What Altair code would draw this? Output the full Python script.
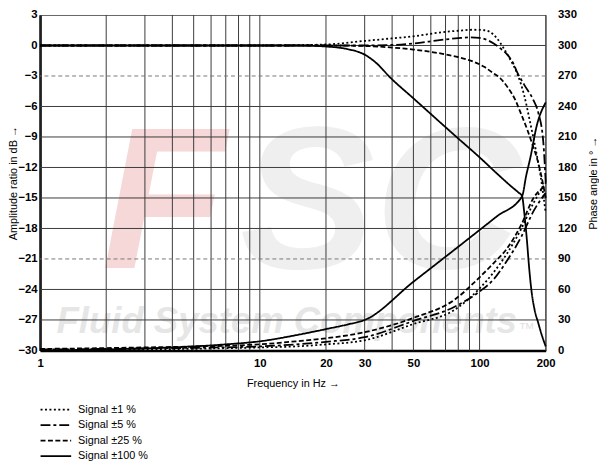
import altair as alt
import pandas as pd

SERIES = ["Signal ±1 %", "Signal ±5 %", "Signal ±25 %", "Signal ±100 %"]
DASHES = [[2, 2.5], [10, 3, 3, 3], [5, 2.5], [1, 0]]

# ---- amplitude ratio (dB) ----
amp1_f = [1, 10, 20, 30, 40, 50, 67, 80, 94, 105, 112, 120, 129, 138, 148, 160, 170, 180, 190, 200]
amp1_db = [0, 0, 0.1, 0.45, 0.7, 0.9, 1.3, 1.45, 1.55, 1.5, 1.3, 0.7, -0.3, -1.4, -2.7, -5.0, -7.6, -10.2, -13.0, -16.5]

amp2_f = [1, 30, 40, 50, 67, 80, 91, 100, 108, 116, 124, 135, 143, 148, 160, 176, 185, 195, 200]
amp2_db = [0, 0, 0.05, 0.2, 0.55, 0.72, 0.8, 0.75, 0.55, 0.2, -0.26, -1.0, -1.85, -2.6, -3.9, -5.4, -6.6, -9.5, -13.5]

amp3_f = [1, 20, 30, 40, 50, 67, 80, 94, 105, 115, 124, 135, 145, 153, 165, 175, 182, 190, 200]
amp3_db = [0, 0, -0.05, -0.2, -0.4, -0.8, -1.15, -1.6, -2.1, -2.7, -3.2, -4.2, -5.3, -6.5, -8.3, -9.9, -11.0, -12.6, -15.0]

amp4_f = [1, 15, 20, 25, 30, 34, 39, 50, 79.5, 100, 120, 140, 150, 156, 160, 164, 168, 172, 178, 185, 192, 200]
amp4_db = [0, 0, -0.1, -0.35, -0.9, -1.75, -3.1, -5.2, -9.1, -11.0, -12.6, -13.9, -14.45, -14.8, -16.6, -19.0, -21.8, -24.0, -26.0, -27.3, -28.5, -29.6]

# ---- phase angle (degrees) ----
ph1_f = [1, 3, 10, 14.6, 20, 30, 50, 77, 100, 116, 133, 155, 176, 200]
ph1_deg = [0.5, 1, 3, 4, 6, 10, 26, 40, 61, 77, 95, 120, 145, 165]

ph2_f = [1, 3, 10, 14.6, 20, 30, 50, 77, 100, 116, 133, 155, 176, 200]
ph2_deg = [1, 2, 4, 6, 8.5, 13, 29, 43, 58, 70, 88, 112, 137, 155]

ph3_f = [1, 3, 10, 14.6, 20, 30, 50, 77, 100, 116, 133, 155, 176, 200]
ph3_deg = [1.5, 3, 6, 9, 12, 18, 32, 50, 72, 86, 100, 124, 150, 162]

ph4_f = [1, 2, 4, 7, 10, 14.6, 20, 25, 30, 50, 80, 120, 156, 163, 170, 182, 200]
ph4_deg = [0, 1, 3, 6, 9, 15, 21, 25.5, 30, 67.6, 102, 132, 151.5, 172, 189, 221, 244]

# ---- axes / grid ----
freq_grid = [1, 2, 3, 4, 5, 6, 7, 8, 9, 10, 20, 30, 40, 50, 60, 70, 80, 90, 100, 200]
freq_labels = [1, 10, 20, 30, 50, 100, 200]
amp_ticks = list(range(-30, 4, 3))
amp_grid_solid = [-27, -24, -18, -15, -12, -9, -6, 0]
amp_grid_dashed = [-21, -3]
phase_ticks = list(range(0, 331, 30))


def frame(fs, vs, s):
    return pd.DataFrame({"f": fs, "v": vs, "series": s})


amp_df = pd.concat([
    frame(amp1_f, amp1_db, SERIES[0]),
    frame(amp2_f, amp2_db, SERIES[1]),
    frame(amp3_f, amp3_db, SERIES[2]),
    frame(amp4_f, amp4_db, SERIES[3]),
], ignore_index=True)

ph_df = pd.concat([
    frame(ph1_f, ph1_deg, SERIES[0]),
    frame(ph2_f, ph2_deg, SERIES[1]),
    frame(ph3_f, ph3_deg, SERIES[2]),
    frame(ph4_f, ph4_deg, SERIES[3]),
], ignore_index=True)

FONT = "Liberation Sans"

XS = alt.Scale(type="log", domain=[1, 200], nice=False)
YA = alt.Scale(domain=[-30, 3], nice=False, zero=False)
YP = alt.Scale(domain=[0, 330], nice=False, zero=False)

x_axis = alt.Axis(
    values=freq_grid,
    labelExpr=f"indexof({freq_labels}, datum.value) >= 0 ? datum.value + '' : ''",
    title="Frequency in Hz →",
    domainColor="black", domainWidth=2.5,
    labelPadding=7, titlePadding=9, labelFlush=False, labelOverlap=False,
)
X = alt.X("f:Q", scale=XS, axis=x_axis)

dash = alt.StrokeDash("series:N", scale=alt.Scale(domain=SERIES, range=DASHES), legend=None)

one = pd.DataFrame({"a": [0]})

wm_F = alt.Chart(one).mark_text(
    text="F", font=FONT, fontWeight="bold", fontStyle="italic", fontSize=205,
    color="#f6d8d8", align="center", baseline="alphabetic"
).encode(x=alt.value(125), y=alt.value(256))
wm_SC = alt.Chart(one).mark_text(
    text="SC", font=FONT, fontWeight="bold", fontStyle="italic", fontSize=205,
    color="#efefef", align="center", baseline="alphabetic"
).encode(x=alt.value(345), y=alt.value(256))
wm_txt = alt.Chart(one).mark_text(
    text="Fluid System Components", font=FONT, fontWeight="bold", fontStyle="italic",
    fontSize=37, color="#e6e6e6", align="center", baseline="alphabetic"
).encode(x=alt.value(250), y=alt.value(322))
wm_tm = alt.Chart(one).mark_text(
    text="TM", font=FONT, fontSize=10, color="#dddddd", align="left", baseline="alphabetic"
).encode(x=alt.value(486), y=alt.value(318))

vgrid = alt.Chart(pd.DataFrame({"f": freq_grid})).mark_rule(
    color="#3a3a3a", strokeWidth=1).encode(x=X)
hgrid = alt.Chart(pd.DataFrame({"v": amp_grid_solid})).mark_rule(
    color="#3a3a3a", strokeWidth=1).encode(y=alt.Y("v:Q", scale=YA, axis=None))
hdash = alt.Chart(pd.DataFrame({"v": amp_grid_dashed})).mark_rule(
    color="#777777", strokeWidth=1, strokeDash=[4, 3]).encode(y=alt.Y("v:Q", scale=YA, axis=None))

amp_lines = alt.Chart(amp_df).mark_line(
    color="black", strokeWidth=1.8, interpolate="monotone"
).encode(
    x=X,
    y=alt.Y("v:Q", scale=YA, axis=alt.Axis(
        values=amp_ticks, title="Amplitude ratio in dB →", orient="left",
        domainColor="black", domainWidth=2.5, labelPadding=3,
        titleX=-22, titleBaseline="bottom")),
    strokeDash=dash,
)

ph_lines = alt.Chart(ph_df).mark_line(
    color="black", strokeWidth=1.8, interpolate="monotone"
).encode(
    x=X,
    y=alt.Y("v:Q", scale=YP, axis=alt.Axis(
        values=phase_ticks, title="Phase angle in ° →", orient="right",
        domain=False, labelPadding=12, labelAlign="left", titleAngle=270,
        titleBaseline="top", titleX=42)),
    strokeDash=dash,
)

leg_y = alt.Y("series:N", scale=alt.Scale(type="point", domain=SERIES, range=[400, 447], padding=0), axis=None)
leg_df = pd.DataFrame({"series": SERIES})
leg_rules = alt.Chart(leg_df).mark_rule(color="black", strokeWidth=1.8).encode(
    x=alt.value(0.5), x2=alt.value(31.5), y=leg_y, strokeDash=dash)
leg_text = alt.Chart(leg_df).mark_text(
    align="left", baseline="middle", font=FONT, fontSize=11, color="black"
).encode(x=alt.value(38.5), y=leg_y, text="series:N")

chart = alt.layer(
    wm_F, wm_SC, wm_txt, wm_tm, vgrid, hgrid, hdash, amp_lines, ph_lines, leg_rules, leg_text
).resolve_scale(y="independent").properties(
    width=512.5, height=340,
    autosize=alt.AutoSizeParams(type="none"),
    padding={"left": 32.5, "top": 4, "right": 54, "bottom": 113},
).configure_view(stroke="#666666", strokeWidth=1).configure_axis(
    labelFont=FONT, labelFontWeight="bold", labelFontSize=11.5, labelColor="black",
    titleFont=FONT, titleFontWeight="normal", titleFontSize=11, titleColor="black",
    ticks=False, grid=False,
)

chart.save("out.html", embed_options={"renderer": "svg", "actions": False})
